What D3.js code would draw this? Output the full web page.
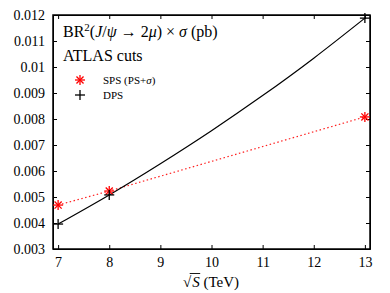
<!DOCTYPE html>
<html>
<head>
<meta charset="utf-8">
<script src="https://cdn.jsdelivr.net/npm/d3@7"></script>
<style>
body { margin: 0; background: #fff; }
svg { display: block; font-family: "Liberation Serif", "DejaVu Serif", serif; }
.axis path, .axis line { stroke: #000; }
.axis text { font-size: 14px; fill: #000; font-family: "Liberation Serif", serif; }
</style>
</head>
<body>
<div class="svg-container"></div>
<script>
var energies = [7, 8, 13];
var spsValues = [0.00469, 0.00523, 0.00808];
var dpsValues = [0.00396, 0.00508, 0.01188];
// dps curve
var dpsCurveX = [7, 8, 9, 10, 11, 12, 13];
var dpsCurveY = [0.00396, 0.00508, 0.00628, 0.00755, 0.0089, 0.01034, 0.01188];
var xTicks = [7, 8, 9, 10, 11, 12, 13];
var yTicks = [0.003, 0.004, 0.005, 0.006, 0.007, 0.008, 0.009, 0.01, 0.011, 0.012];

var width = 390, height = 293;
var padLeft = 53, padRight = 370, padTop = 15, padBottom = 249;

var svg = d3.select('.svg-container')
	.append('svg')
	.attr('width', width)
	.attr('height', height);

var xScale = d3.scaleLinear()
	.domain([6.9, 13.1])
	.range([padLeft, padRight]);

var yScale = d3.scaleLinear()
	.domain([0.003, 0.012])
	.range([padBottom, padTop]);

var fmtY = function(d) { return String(+d.toFixed(3)); };
var fmtX = function(d) { return String(d); };

svg.append('g')
	.attr('class', 'axis')
	.attr('transform', 'translate(0,' + padBottom + ')')
	.call(d3.axisBottom(xScale).tickValues(xTicks).tickSizeInner(-4).tickSizeOuter(0).tickPadding(8).tickFormat(fmtX));

svg.append('g')
	.attr('class', 'axis')
	.attr('transform', 'translate(0,' + padTop + ')')
	.call(d3.axisTop(xScale).tickValues(xTicks).tickSizeInner(-4).tickSizeOuter(0).tickFormat(''));

svg.append('g')
	.attr('class', 'axis')
	.attr('transform', 'translate(' + padLeft + ',0)')
	.call(d3.axisLeft(yScale).tickValues(yTicks).tickSizeInner(-4).tickSizeOuter(0).tickPadding(8).tickFormat(fmtY));

svg.append('g')
	.attr('class', 'axis')
	.attr('transform', 'translate(' + padRight + ',0)')
	.call(d3.axisRight(yScale).tickValues(yTicks).tickSizeInner(-4).tickSizeOuter(0).tickFormat(''));

svg.append('rect')
	.attr('x', padLeft)
	.attr('y', padTop)
	.attr('width', padRight - padLeft)
	.attr('height', padBottom - padTop)
	.attr('fill', 'none')
	.attr('stroke', '#000')
	.attr('stroke-width', 1.5);

var spsData = energies.map(function(e, i) { return { x: e, y: spsValues[i] }; });
var dpsData = energies.map(function(e, i) { return { x: e, y: dpsValues[i] }; });
var dpsCurve = dpsCurveX.map(function(e, i) { return { x: e, y: dpsCurveY[i] }; });

var line = d3.line()
	.x(function(d) { return xScale(d.x); })
	.y(function(d) { return yScale(d.y); });

var smoothLine = d3.line()
	.curve(d3.curveNatural)
	.x(function(d) { return xScale(d.x); })
	.y(function(d) { return yScale(d.y); });

svg.append('path')
	.datum(spsData)
	.attr('d', line)
	.attr('fill', 'none')
	.attr('stroke', '#ff2020')
	.attr('stroke-width', 1.2)
	.attr('stroke-dasharray', '1.5,2.5');

svg.append('path')
	.datum(dpsCurve)
	.attr('d', smoothLine)
	.attr('fill', 'none')
	.attr('stroke', '#000')
	.attr('stroke-width', 1.2);

function star(g, cx, cy, r, color) {
	var angles = [0, 45, 90, 135];
	angles.forEach(function(a) {
		var rad = a * Math.PI / 180;
		g.append('line')
			.attr('x1', cx - r * Math.cos(rad)).attr('y1', cy - r * Math.sin(rad))
			.attr('x2', cx + r * Math.cos(rad)).attr('y2', cy + r * Math.sin(rad))
			.attr('stroke', color).attr('stroke-width', 1.3);
	});
}

function plus(g, cx, cy, r, color) {
	g.append('line').attr('x1', cx - r).attr('x2', cx + r).attr('y1', cy).attr('y2', cy)
		.attr('stroke', color).attr('stroke-width', 1.3);
	g.append('line').attr('x1', cx).attr('x2', cx).attr('y1', cy - r).attr('y2', cy + r)
		.attr('stroke', color).attr('stroke-width', 1.3);
}

var marks = svg.append('g');
spsData.forEach(function(d) { star(marks, xScale(d.x), yScale(d.y), 5, '#ff0000'); });
dpsData.forEach(function(d) { plus(marks, xScale(d.x), yScale(d.y), 5, '#000'); });

// legend
star(marks, 80, 80, 5, '#ff0000');
plus(marks, 80, 95, 5, '#000');

svg.append('text')
	.attr('x', 103).attr('y', 84)
	.attr('font-size', 11)
	.html('SPS (PS+<tspan font-style="italic">σ</tspan>)');

svg.append('text')
	.attr('x', 103).attr('y', 99)
	.attr('font-size', 11)
	.text('DPS');

svg.append('text')
	.attr('x', 63).attr('y', 37)
	.attr('font-size', 16)
	.html('BR<tspan dy="-6" font-size="11">2</tspan><tspan dy="6">(</tspan><tspan font-style="italic">J</tspan>/<tspan font-style="italic">ψ</tspan> → 2<tspan font-style="italic">μ</tspan>) × <tspan font-style="italic">σ</tspan> (pb)');

svg.append('text')
	.attr('x', 63).attr('y', 61)
	.attr('font-size', 16)
	.text('ATLAS cuts');

var xLabel = svg.append('text')
	.attr('x', 211).attr('y', 287)
	.attr('text-anchor', 'middle')
	.attr('font-size', 15)
	.html('√<tspan dx="1" font-style="italic">S</tspan> (TeV)');

// overline of the square root over S
var node = xLabel.node();
var rootBox = node.getExtentOfChar(0);
var sBox = node.getExtentOfChar(1);
var barY = 287 - 13.5;
svg.append('line')
	.attr('x1', rootBox.x + rootBox.width - 1.5).attr('x2', sBox.x + sBox.width + 0.5)
	.attr('y1', barY).attr('y2', barY)
	.attr('stroke', '#000').attr('stroke-width', 0.9);
</script>
</body>
</html>
